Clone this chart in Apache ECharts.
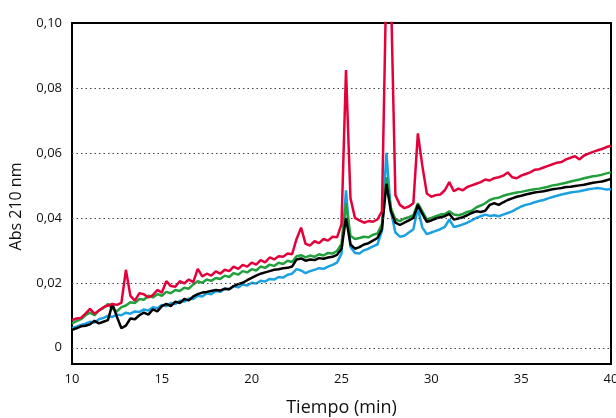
<!DOCTYPE html>
<html>
<head>
<meta charset="utf-8">
<script src="https://cdn.jsdelivr.net/npm/echarts@6/dist/echarts.min.js"></script>
<style>
  html, body { margin: 0; padding: 0; background: #fff; }
  #chart { width: 616px; height: 418px; }
</style>
</head>
<body>
<div id="chart"></div>
<script>
// tiempo (min), paso 0,25
const tiempo = [];
for (let i = 0; i <= 120; i++) tiempo.push(10 + i * 0.25);

const yTicks = [0, 0.02, 0.04, 0.06, 0.08, 0.10];
const gridLines = [0, 0.02, 0.04, 0.06, 0.08];

const rojo = [
  0.0085, 0.0090, 0.0092, 0.0105, 0.0120, 0.0105, 0.0115, 0.0125,
  0.0130, 0.0135, 0.0132, 0.0138, 0.0240, 0.0160, 0.0145, 0.0168,
  0.0165, 0.0155, 0.0162, 0.0178, 0.0170, 0.0205, 0.0190, 0.0188,
  0.0205, 0.0198, 0.0210, 0.0202, 0.0243, 0.0220, 0.0228, 0.0222,
  0.0235, 0.0228, 0.0240, 0.0236, 0.0250, 0.0243, 0.0255, 0.0250,
  0.0262, 0.0256, 0.0270, 0.0263, 0.0278, 0.0272, 0.0282, 0.0280,
  0.0290, 0.0288, 0.0335, 0.0370, 0.0320, 0.0315, 0.0328, 0.0322,
  0.0335, 0.0330, 0.0342, 0.0340, 0.0380, 0.0855, 0.0460, 0.0400,
  0.0392, 0.0385, 0.0390, 0.0388, 0.0395, 0.0420, 0.1150, 0.1100,
  0.0470, 0.0440, 0.0430, 0.0435, 0.0445, 0.0660, 0.0560, 0.0475,
  0.0465, 0.0470, 0.0472, 0.0485, 0.0510, 0.0482, 0.0490, 0.0485,
  0.0495, 0.0500, 0.0505, 0.0510, 0.0518, 0.0515, 0.0522, 0.0525,
  0.0530, 0.0540, 0.0525, 0.0522, 0.0530, 0.0535, 0.0540, 0.0548,
  0.0550, 0.0555, 0.0560, 0.0565, 0.0570, 0.0572, 0.0580, 0.0585,
  0.0590, 0.0580, 0.0592, 0.0598, 0.0603, 0.0608, 0.0612, 0.0618,
  0.0622
];

const verde = [
  0.0075, 0.0082, 0.0088, 0.0100, 0.0108, 0.0100, 0.0115, 0.0122,
  0.0135, 0.0120, 0.0112, 0.0125, 0.0130, 0.0140, 0.0138, 0.0150,
  0.0148, 0.0160, 0.0155, 0.0165, 0.0160, 0.0172, 0.0168, 0.0178,
  0.0175, 0.0185, 0.0182, 0.0195, 0.0205, 0.0200, 0.0210, 0.0206,
  0.0215, 0.0212, 0.0222, 0.0218, 0.0230, 0.0225, 0.0236, 0.0232,
  0.0242, 0.0238, 0.0250, 0.0246, 0.0256, 0.0252, 0.0262, 0.0258,
  0.0268, 0.0264, 0.0282, 0.0285, 0.0278, 0.0284, 0.0280, 0.0288,
  0.0284, 0.0292, 0.0290, 0.0298, 0.0320, 0.0445, 0.0345, 0.0335,
  0.0338, 0.0342, 0.0340, 0.0348, 0.0352, 0.0380, 0.0525, 0.0430,
  0.0395, 0.0390, 0.0398, 0.0402, 0.0408, 0.0445, 0.0420, 0.0395,
  0.0400, 0.0405, 0.0410, 0.0412, 0.0420, 0.0410, 0.0408, 0.0412,
  0.0418, 0.0422, 0.0432, 0.0438, 0.0445, 0.0455, 0.0460, 0.0462,
  0.0468, 0.0472, 0.0475, 0.0478, 0.0480, 0.0483, 0.0486, 0.0488,
  0.0490, 0.0493, 0.0496, 0.0500, 0.0502, 0.0505, 0.0508, 0.0512,
  0.0515, 0.0518, 0.0522, 0.0525, 0.0528, 0.0530, 0.0533, 0.0537,
  0.0540
];

const azul = [
  0.0060, 0.0065, 0.0070, 0.0074, 0.0080, 0.0078, 0.0088, 0.0092,
  0.0098, 0.0095, 0.0102, 0.0100, 0.0108, 0.0105, 0.0112, 0.0110,
  0.0118, 0.0115, 0.0125, 0.0122, 0.0132, 0.0128, 0.0138, 0.0135,
  0.0145, 0.0142, 0.0152, 0.0150, 0.0160, 0.0158, 0.0168, 0.0165,
  0.0175, 0.0172, 0.0182, 0.0180, 0.0190, 0.0186, 0.0195, 0.0192,
  0.0200, 0.0198, 0.0206, 0.0204, 0.0212, 0.0210, 0.0218, 0.0216,
  0.0225, 0.0228, 0.0242, 0.0238, 0.0230, 0.0236, 0.0240, 0.0245,
  0.0243, 0.0250, 0.0255, 0.0262, 0.0290, 0.0485, 0.0310, 0.0292,
  0.0290, 0.0300, 0.0305, 0.0312, 0.0318, 0.0360, 0.0600, 0.0420,
  0.0355, 0.0342, 0.0345, 0.0355, 0.0365, 0.0430, 0.0370, 0.0350,
  0.0355, 0.0360, 0.0365, 0.0372, 0.0395, 0.0372, 0.0375, 0.0380,
  0.0385, 0.0392, 0.0400, 0.0405, 0.0410, 0.0406, 0.0408, 0.0405,
  0.0410, 0.0415, 0.0420, 0.0428, 0.0435, 0.0440, 0.0443, 0.0448,
  0.0452, 0.0455, 0.0460, 0.0464, 0.0468, 0.0472, 0.0475, 0.0478,
  0.0480, 0.0482, 0.0485, 0.0488, 0.0490, 0.0492, 0.0490, 0.0487,
  0.0488
];

const negro = [
  0.0055, 0.0060, 0.0066, 0.0068, 0.0072, 0.0083, 0.0075, 0.0080,
  0.0085, 0.0135, 0.0095, 0.0060, 0.0068, 0.0090, 0.0088, 0.0100,
  0.0108, 0.0102, 0.0118, 0.0112, 0.0128, 0.0135, 0.0128, 0.0142,
  0.0138, 0.0150, 0.0146, 0.0158, 0.0165, 0.0170, 0.0172, 0.0175,
  0.0178, 0.0176, 0.0182, 0.0180, 0.0190, 0.0196, 0.0200, 0.0208,
  0.0215, 0.0222, 0.0228, 0.0232, 0.0236, 0.0240, 0.0242, 0.0245,
  0.0246, 0.0250, 0.0272, 0.0275, 0.0268, 0.0272, 0.0270, 0.0276,
  0.0274, 0.0278, 0.0280, 0.0286, 0.0305, 0.0400, 0.0318, 0.0305,
  0.0310, 0.0318, 0.0322, 0.0330, 0.0338, 0.0365, 0.0505, 0.0420,
  0.0385, 0.0378, 0.0385, 0.0392, 0.0400, 0.0440, 0.0412, 0.0388,
  0.0392, 0.0398, 0.0402, 0.0405, 0.0412, 0.0395, 0.0398, 0.0402,
  0.0408, 0.0415, 0.0420, 0.0418, 0.0422, 0.0440, 0.0445, 0.0440,
  0.0448, 0.0455, 0.0460, 0.0465, 0.0468, 0.0472, 0.0475, 0.0478,
  0.0480, 0.0482, 0.0485, 0.0488, 0.0490, 0.0492, 0.0495, 0.0496,
  0.0498, 0.0500, 0.0502, 0.0505, 0.0508, 0.0510, 0.0512, 0.0516,
  0.0520
];

const font = "'Open Sans', 'DejaVu Sans', sans-serif";

const pares = (vals) => vals.map((v, i) => [tiempo[i], v]);

const linea = (name, vals, color, z) => ({
  name: name,
  type: "line",
  data: pares(vals),
  showSymbol: false,
  symbol: "none",
  clip: true,
  z: z,
  lineStyle: { color: color, width: 2.5 },
});

const myChart = echarts.init(document.getElementById("chart"), null, { renderer: "canvas" });

const option = {
  animation: false,
  backgroundColor: "#fff",
  grid: {
    left: 72,
    right: 5,
    top: 23,
    bottom: 54,
    outerBoundsMode: "none",
    containLabel: false,
    show: true,
    borderColor: "#000",
    borderWidth: 2,
  },
  xAxis: {
    type: "value",
    min: 10,
    max: 40,
    interval: 5,
    name: "Tiempo (min)",
    nameLocation: "middle",
    nameGap: 35,
    nameTextStyle: { fontFamily: font, fontSize: 18, color: "#111" },
    axisLine: { show: false },
    axisTick: { show: false },
    splitLine: { show: false },
    axisLabel: { fontFamily: font, fontSize: 13, color: "#111", margin: 9 },
  },
  yAxis: {
    type: "value",
    min: -0.005,
    max: 0.1,
    name: "Abs 210 nm",
    nameLocation: "middle",
    nameGap: 48,
    nameTextStyle: {
      fontFamily: font,
      fontSize: 16,
      color: "#111",
      padding: [0, 26, 0, 0],
    },
    axisLine: { show: false },
    axisTick: { show: false },
    splitLine: { show: false },
    axisLabel: {
      customValues: yTicks,
      fontFamily: font,
      fontSize: 13,
      color: "#111",
      margin: 10,
      formatter: function (v) {
        return v === 0 ? "0" : v.toFixed(2).replace(".", ",");
      },
    },
  },
  series: [
    Object.assign(linea("azul", azul, "#1ba1e2", 2), {
      markLine: {
        silent: true,
        symbol: "none",
        label: { show: false },
        lineStyle: { color: "#444", type: [1.5, 3], width: 1.2 },
        data: gridLines.map((v) => ({ yAxis: v })),
      },
    }),
    linea("verde", verde, "#22a03c", 3),
    linea("negro", negro, "#000000", 4),
    linea("rojo", rojo, "#e4003a", 5),
  ],
};

myChart.setOption(option);
</script>
</body>
</html>
